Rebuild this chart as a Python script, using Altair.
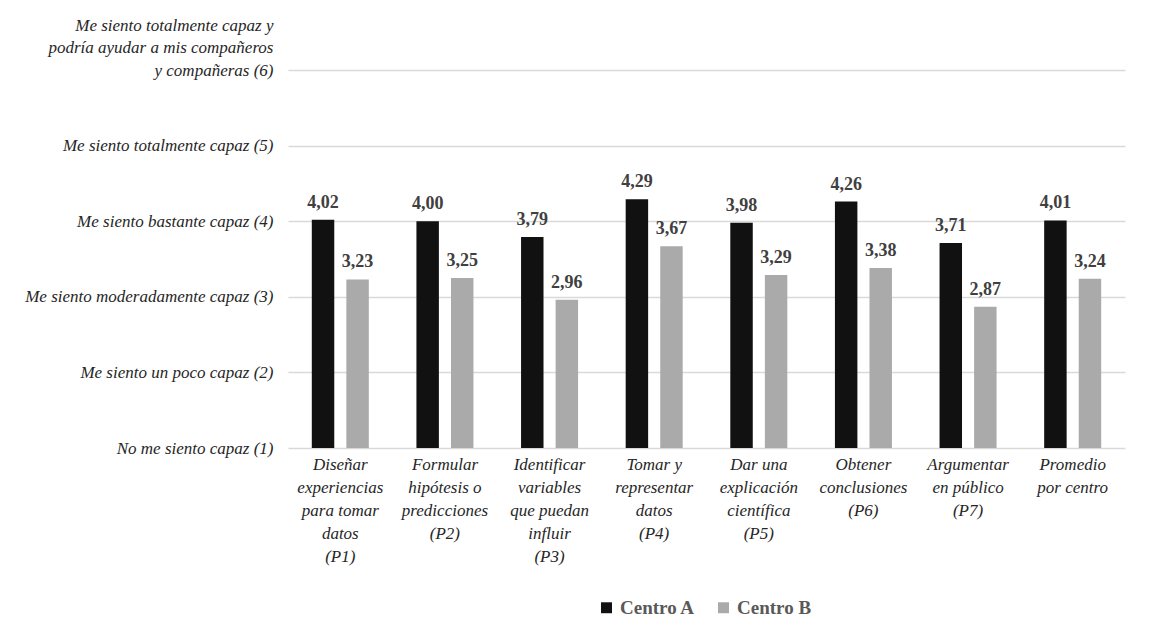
import altair as alt
import pandas as pd

categories = [
    "Diseñar|experiencias|para tomar|datos|(P1)",
    "Formular|hipótesis o|predicciones|(P2)",
    "Identificar|variables|que puedan|influir|(P3)",
    "Tomar y|representar|datos|(P4)",
    "Dar una|explicación|científica|(P5)",
    "Obtener|conclusiones|(P6)",
    "Argumentar|en público|(P7)",
    "Promedio|por centro",
]
centro_a = [4.02, 4.00, 3.79, 4.29, 3.98, 4.26, 3.71, 4.01]
centro_b = [3.23, 3.25, 2.96, 3.67, 3.29, 3.38, 2.87, 3.24]
series = ["Centro A", "Centro B"]
series_colors = ["#111111", "#aaaaaa"]

y_levels = [1, 2, 3, 4, 5, 6]
y_labels = [
    "No me siento capaz (1)",
    "Me siento un poco capaz (2)",
    "Me siento moderadamente capaz (3)",
    "Me siento bastante capaz (4)",
    "Me siento totalmente capaz (5)",
    "Me siento totalmente capaz y|podría ayudar a mis compañeros|y compañeras (6)",
]

rows = []
for i, c in enumerate(categories):
    rows.append({"cat": c, "serie": series[0], "valor": centro_a[i]})
    rows.append({"cat": c, "serie": series[1], "valor": centro_b[i]})
df = pd.DataFrame(rows)

expr = "''"
for lv, lb in zip(reversed(y_levels), reversed(y_labels)):
    expr = f"datum.value == {lv} ? '{lb}' : ({expr})"
y_label_expr = f"split({expr}, '|')"

FONT = "Liberation Serif"

x_enc = alt.X(
    "cat:N",
    sort=categories,
    title=None,
    scale=alt.Scale(paddingInner=0.455, paddingOuter=0.2275),
    axis=alt.Axis(
        labelExpr="split(datum.label, '|')",
        labelAngle=0,
        labelFont=FONT,
        labelFontStyle="italic",
        labelFontSize=17,
        labelColor="#262626",
        labelLineHeight=23,
        labelBaseline="top",
        labelPadding=8,
        ticks=False,
        domain=False,
        labelLimit=200,
    ),
)
xoff = alt.XOffset("serie:N", sort=series, scale=alt.Scale(paddingInner=0.35, paddingOuter=0))
y_enc = alt.Y(
    "valor:Q",
    title=None,
    scale=alt.Scale(domain=[1, 6], zero=False, nice=False),
    axis=alt.Axis(
        values=y_levels,
        labelExpr=y_label_expr,
        labelFont=FONT,
        labelFontStyle="italic",
        labelFontSize=17,
        labelColor="#262626",
        labelLineHeight=22.5,
        labelBaseline="middle",
        labelOffset={"condition": {"test": "datum.value == 6", "value": -45}, "value": 0},
        labelPadding=15,
        labelLimit=400,
        ticks=False,
        domain=False,
        grid=True,
        gridColor="#d9d9d9",
        gridWidth=1.5,
    ),
)

color = alt.Color(
    "serie:N",
    sort=series,
    scale=alt.Scale(domain=series, range=series_colors),
    legend=alt.Legend(
        title=None,
        orient="none",
        legendX=309,
        legendY=528,
        direction="horizontal",
        symbolType="square",
        symbolSize=120,
        symbolStrokeWidth=0,
        labelFont=FONT,
        labelFontSize=19,
        labelFontWeight="bold",
        labelColor="#595959",
        columnPadding=18,
        labelOffset=4,
    ),
)

base = alt.Chart(df)
bars = base.mark_bar().encode(
    x=x_enc, xOffset=xoff, y=y_enc, y2=alt.datum(1), color=color
)
texts = base.transform_calculate(
    txt="replace(format(datum.valor, '.2f'), '.', ',')"
).mark_text(
    baseline="bottom", dy=-8, font=FONT, fontSize=18, fontWeight="bold", color="#404040"
).encode(
    x=alt.X("cat:N", sort=categories), xOffset=xoff, y=alt.Y("valor:Q"), text="txt:N"
)

chart = (
    alt.layer(bars, texts)
    .properties(
        width=837,
        height=378,
        autosize=alt.AutoSizeParams(type="none"),
        padding={"left": 280, "top": 62, "right": 38, "bottom": 170},
    )
    .configure_view(stroke=None)
)

chart.save("out.html", embed_options={"renderer": "svg", "actions": False})
